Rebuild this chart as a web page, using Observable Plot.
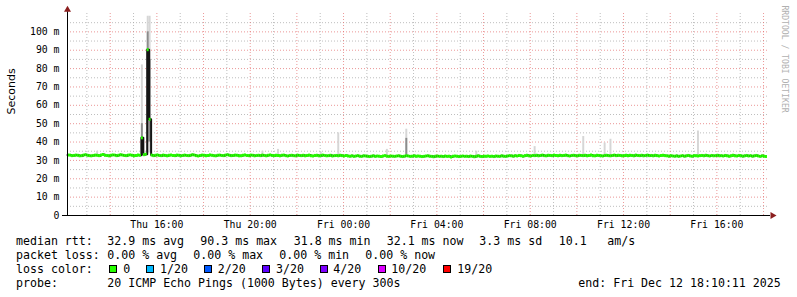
<!DOCTYPE html>
<html><head><meta charset="utf-8">
<script src="https://cdn.jsdelivr.net/npm/d3@7"></script>
<script src="https://cdn.jsdelivr.net/npm/@observablehq/plot@0.6"></script>
<style>
body{margin:0;background:#fff;}
#wrap{position:relative;width:797px;height:297px;overflow:hidden;background:#fff;}
#chart svg{display:block;}
.lg{position:absolute;white-space:pre;font-family:"DejaVu Sans Mono",monospace;font-size:11.6px;line-height:14px;color:#000;}
.box{position:absolute;box-sizing:border-box;width:8px;height:8px;border:1px solid #000;}
</style></head><body><div id="wrap"><div id="chart"></div></div>
<script>
const startTime = new Date("2025-12-11T12:10:11Z");
const endTime = new Date("2025-12-12T18:10:11Z");
const stepSeconds = 300;

// median RTT per 5-minute sample (ms)
const medianRtt = [
33.0,32.9,32.6,32.7,32.9,32.8,32.5,32.6,32.9,33.1,32.8,32.6,
32.5,32.7,32.9,32.8,32.6,32.9,33.2,32.8,32.7,32.5,32.8,33.0,
32.9,32.6,32.8,33.1,32.9,32.7,32.6,32.9,33.0,32.8,32.5,32.7,
33.0,32.8,42.3,33.1,33.4,90.3,52.4,32.9,32.6,32.8,33.0,32.7,
32.6,32.9,32.7,32.5,32.8,33.0,32.7,32.6,32.9,32.8,32.5,32.7,
32.9,32.7,32.6,32.8,33.1,32.9,32.6,32.4,32.7,32.9,32.8,32.6,
32.7,33.0,32.8,32.6,32.5,32.8,32.9,32.7,32.6,32.9,33.1,32.8,
32.6,32.7,32.9,32.8,32.5,32.6,32.8,33.0,32.7,32.6,32.9,32.8,
32.5,32.7,32.8,32.6,32.9,32.7,32.5,32.8,33.0,32.7,32.6,32.8,
32.7,32.5,32.8,32.9,32.6,32.4,32.7,32.8,32.6,32.5,32.9,32.7,
32.6,32.8,32.5,32.7,32.9,32.6,32.4,32.7,32.8,32.5,32.6,32.9,
32.7,32.5,32.6,32.8,32.4,32.6,32.7,32.5,32.8,32.6,32.4,32.7,
32.4,32.3,32.5,32.2,32.4,32.6,32.3,32.2,32.5,32.4,32.3,32.1,
32.3,32.5,32.2,32.4,32.3,32.1,32.4,32.6,32.3,32.2,32.4,32.3,
32.2,32.4,32.5,32.3,32.1,32.3,32.6,32.4,32.2,32.3,32.5,32.2,
32.4,32.3,32.1,32.2,32.4,32.5,32.3,32.2,32.0,32.3,32.4,32.2,
32.3,32.1,32.4,32.2,32.3,31.8,32.2,32.4,32.3,32.1,32.2,32.4,
32.2,32.3,32.1,32.4,32.2,32.0,32.3,32.5,32.2,32.1,32.3,32.2,
32.4,32.2,32.3,32.1,32.4,32.3,32.2,32.5,32.3,32.2,32.4,32.6,
32.5,32.3,32.6,32.4,32.7,32.5,32.3,32.6,32.8,32.5,32.4,32.7,
32.6,32.8,32.5,32.7,32.9,32.6,32.5,32.8,32.7,32.6,32.9,32.7,
32.5,32.8,32.6,32.7,32.9,32.6,32.4,32.7,32.8,32.6,32.5,32.8,
32.7,32.6,32.8,32.5,32.7,32.9,32.6,32.5,32.8,32.7,32.6,32.4,
32.7,32.8,32.6,32.5,32.7,32.9,32.6,32.8,32.7,32.5,32.6,32.8,
32.6,32.8,32.7,32.5,32.9,32.7,32.6,32.8,32.5,32.7,32.9,32.6,
32.7,32.5,32.8,32.6,32.4,32.7,32.8,32.6,32.5,32.3,32.6,32.4,
32.3,32.5,32.2,32.4,32.6,32.3,32.5,32.7,32.4,32.3,32.6,32.5,
32.4,32.6,32.7,32.5,32.8,32.6,32.4,32.7,32.5,32.6,32.8,32.5,
32.6,32.4,32.7,32.5,32.3,32.6,32.8,32.5,32.4,32.7,32.6,32.3,
32.5,32.7,32.4,32.6,32.3,32.5,32.7,32.4,32.2,32.5,32.3,32.1
];

// visible smoke (spread of the 20 pings) for samples where it shows
const smokeIndex     = [15,   38,   41,    42,    100,  108,  130,  139,  164,  174,  210,  240,  265,  276,  279,  324];
const smokeLow       = [32.8, 33.0, 34.0,  34.0,  32.8, 32.8, 32.8, 32.8, 32.6, 32.4, 32.4, 32.8, 32.8, 32.8, 32.6, 32.6];
const smokeHigh      = [35.0, 82.0, 108.5, 108.5, 35.0, 36.0, 34.5, 45.0, 36.0, 47.0, 35.0, 37.5, 43.0, 39.5, 41.5, 46.0];
const smokeInnerLow  = [null, 36.0, 40.0,  40.0,  null, null, null, null, null, 33.0, null, null, null, null, null, null];
const smokeInnerHigh = [null, 50.0, 100.0, 85.0,  null, null, null, null, null, 42.0, null, null, null, null, null, null];

const yTickValues = [0,10,20,30,40,50,60,70,80,90,100];
const yTickLabels = ["0","10 m","20 m","30 m","40 m","50 m","60 m","70 m","80 m","90 m","100 m"];
const xTickTimes = ["2025-12-11T16:00:00Z","2025-12-11T20:00:00Z","2025-12-12T00:00:00Z","2025-12-12T04:00:00Z","2025-12-12T08:00:00Z","2025-12-12T12:00:00Z","2025-12-12T16:00:00Z"];
const xTickLabels = ["Thu 16:00","Thu 20:00","Fri 00:00","Fri 04:00","Fri 08:00","Fri 12:00","Fri 16:00"];

const lossLabels = ["0","1/20","2/20","3/20","4/20","10/20","19/20"];
const lossColors = ["#26ff00","#00b8ff","#0059ff","#5e00ff","#7e00ff","#dd00ff","#ff0000"];
const rttStats = ["32.9 ms avg","90.3 ms max","31.8 ms min","32.1 ms now","3.3 ms sd","10.1","am/s"];
const lossStats = ["0.00 % avg","0.00 % max","0.00 % min","0.00 % now"];
const probeText = "20 ICMP Echo Pings (1000 Bytes) every 300s";
const endText = "end: Fri Dec 12 18:10:11 2025";

// ---- build ----
const ms = stepSeconds * 1000;
const samples = medianRtt.map((v, i) => ({t0: new Date(+startTime + i * ms), t1: new Date(+startTime + (i + 1) * ms), v}));
const smoke = smokeIndex.map((i, k) => ({t0: samples[i].t0, t1: samples[i].t1, lo: smokeLow[k], hi: smokeHigh[k], ilo: smokeInnerLow[k], ihi: smokeInnerHigh[k]}));
const xTicks = xTickTimes.map(s => new Date(s));
const hours = d3.utcHour.range(startTime, endTime);
const minorX = hours.filter(d => d.getUTCHours() % 2 === 1);
const majorX = hours.filter(d => d.getUTCHours() % 2 === 0);
const minorY = d3.range(5, 110, 10);
const majorY = d3.range(10, 101, 10);
const plotW = 700;
const secPerPx = (endTime - startTime) / plotW;
const axisLeft = new Date(+startTime - 5 * secPerPx);
const axisRight = new Date(+endTime + 3 * secPerPx);
const arrowRight = new Date(+endTime + 5 * secPerPx);

const mono = "DejaVu Sans Mono";
const chart = Plot.plot({
  width: 797, height: 232,
  marginLeft: 67, marginRight: 30, marginTop: 13, marginBottom: 17,
  x: {type: "utc", domain: [startTime, endTime]},
  y: {domain: [0, 110]},
  style: {background: "#fff", fontFamily: mono, fontSize: "9.8px", color: "#000", overflow: "visible"},
  marks: [
    Plot.ruleY(minorY, {stroke: "#a8a8a8", strokeDasharray: "1,2", strokeOpacity: 0.75}),
    Plot.ruleX(minorX, {y1: 0, y2: 110, stroke: "#a8a8a8", strokeDasharray: "1,2", strokeOpacity: 0.75}),
    Plot.ruleY(majorY, {stroke: "#e06060", strokeDasharray: "1,2", strokeOpacity: 0.65}),
    Plot.ruleX(majorX, {y1: 0, y2: 110, stroke: "#e06060", strokeDasharray: "1,2", strokeOpacity: 0.65}),
    Plot.rect(smoke, {x1: "t0", x2: "t1", y1: "lo", y2: "hi", fill: "#d6d6d6"}),
    Plot.rect(smoke.filter(d => d.ihi != null), {x1: "t0", x2: "t1", y1: "ilo", y2: "ihi", fill: "#8c8c8c"}),
    Plot.line(samples, {x: "t0", y: "v", curve: "step-after", stroke: "#151515", strokeWidth: 2}),
    Plot.ruleY(samples, {y: "v", x1: "t0", x2: "t1", stroke: "#26ff00", strokeWidth: 3}),
    Plot.ruleX([startTime], {y1: 0, y2: 111, stroke: "#000"}),
    Plot.ruleY([0], {x1: axisLeft, x2: axisRight, stroke: "#000"}),
    Plot.dot([startTime], {x: d => d, y: 112, symbol: "triangle", r: 2.6, fill: "#8b1e1e", stroke: "none"}),
    Plot.dot([arrowRight], {x: d => d, y: 0, symbol: "triangle", r: 2.6, rotate: 90, fill: "#8b1e1e", stroke: "none"}),
    Plot.axisY(yTickValues, {tickSize: 0, tickPadding: 8, label: null, fontSize: 9.8, fontFamily: mono,
      tickFormat: d => yTickLabels[yTickValues.indexOf(d)]}),
    Plot.axisX(xTicks, {tickSize: 0, tickPadding: 6, label: null, fontSize: 9.8, fontFamily: mono,
      tickFormat: d => xTickLabels[xTicks.findIndex(t => +t === +d)]}),
    Plot.text(["Seconds"], {text: d => d, frameAnchor: "left", dx: -56, rotate: -90, fontFamily: "DejaVu Sans", fontSize: 11, fill: "#000"}),
    Plot.text(["RRDTOOL / TOBI OETIKER"], {text: d => d, frameAnchor: "top-right", dx: 20, dy: -8, rotate: 90, textAnchor: "start", fontFamily: mono, fontSize: 8.1, fill: "#b0b0b0"})
  ]
});
document.getElementById("chart").appendChild(chart);

// ---- legend (below the SVG) ----
const wrap = document.getElementById("wrap");
function addText(txt, x, baseline) {
  const s = document.createElement("span");
  s.className = "lg"; s.textContent = txt;
  s.style.left = x + "px"; s.style.top = (baseline - 11) + "px";
  wrap.appendChild(s);
}
function addBox(color, x, top) {
  const b = document.createElement("span");
  b.className = "box"; b.style.background = color;
  b.style.left = x + "px"; b.style.top = top + "px";
  wrap.appendChild(b);
}
const rttX = [107.3, 200.3, 293.7, 386.7, 479.3, 558.7, 607.3];
addText("median rtt:", 16, 245);
rttStats.forEach((t, i) => addText(t, rttX[i], 245));
const lossX = [107.3, 193.3, 279.3, 365.3];
addText("packet loss:", 16, 259);
lossStats.forEach((t, i) => addText(t, lossX[i], 259));
addText("loss color:", 16, 273);
const boxX = [108.5, 146, 204, 261.5, 319.5, 377.5, 443];
const lblX = [123.3, 160, 217.7, 276, 333.3, 391.3, 457.3];
lossLabels.forEach((t, i) => { addBox(lossColors[i], boxX[i], 265); addText(t, lblX[i], 273); });
addText("probe:", 16, 286.5);
addText(probeText, 107.3, 286.5);
addText(endText, 578.3, 286.5);
</script></body></html>
